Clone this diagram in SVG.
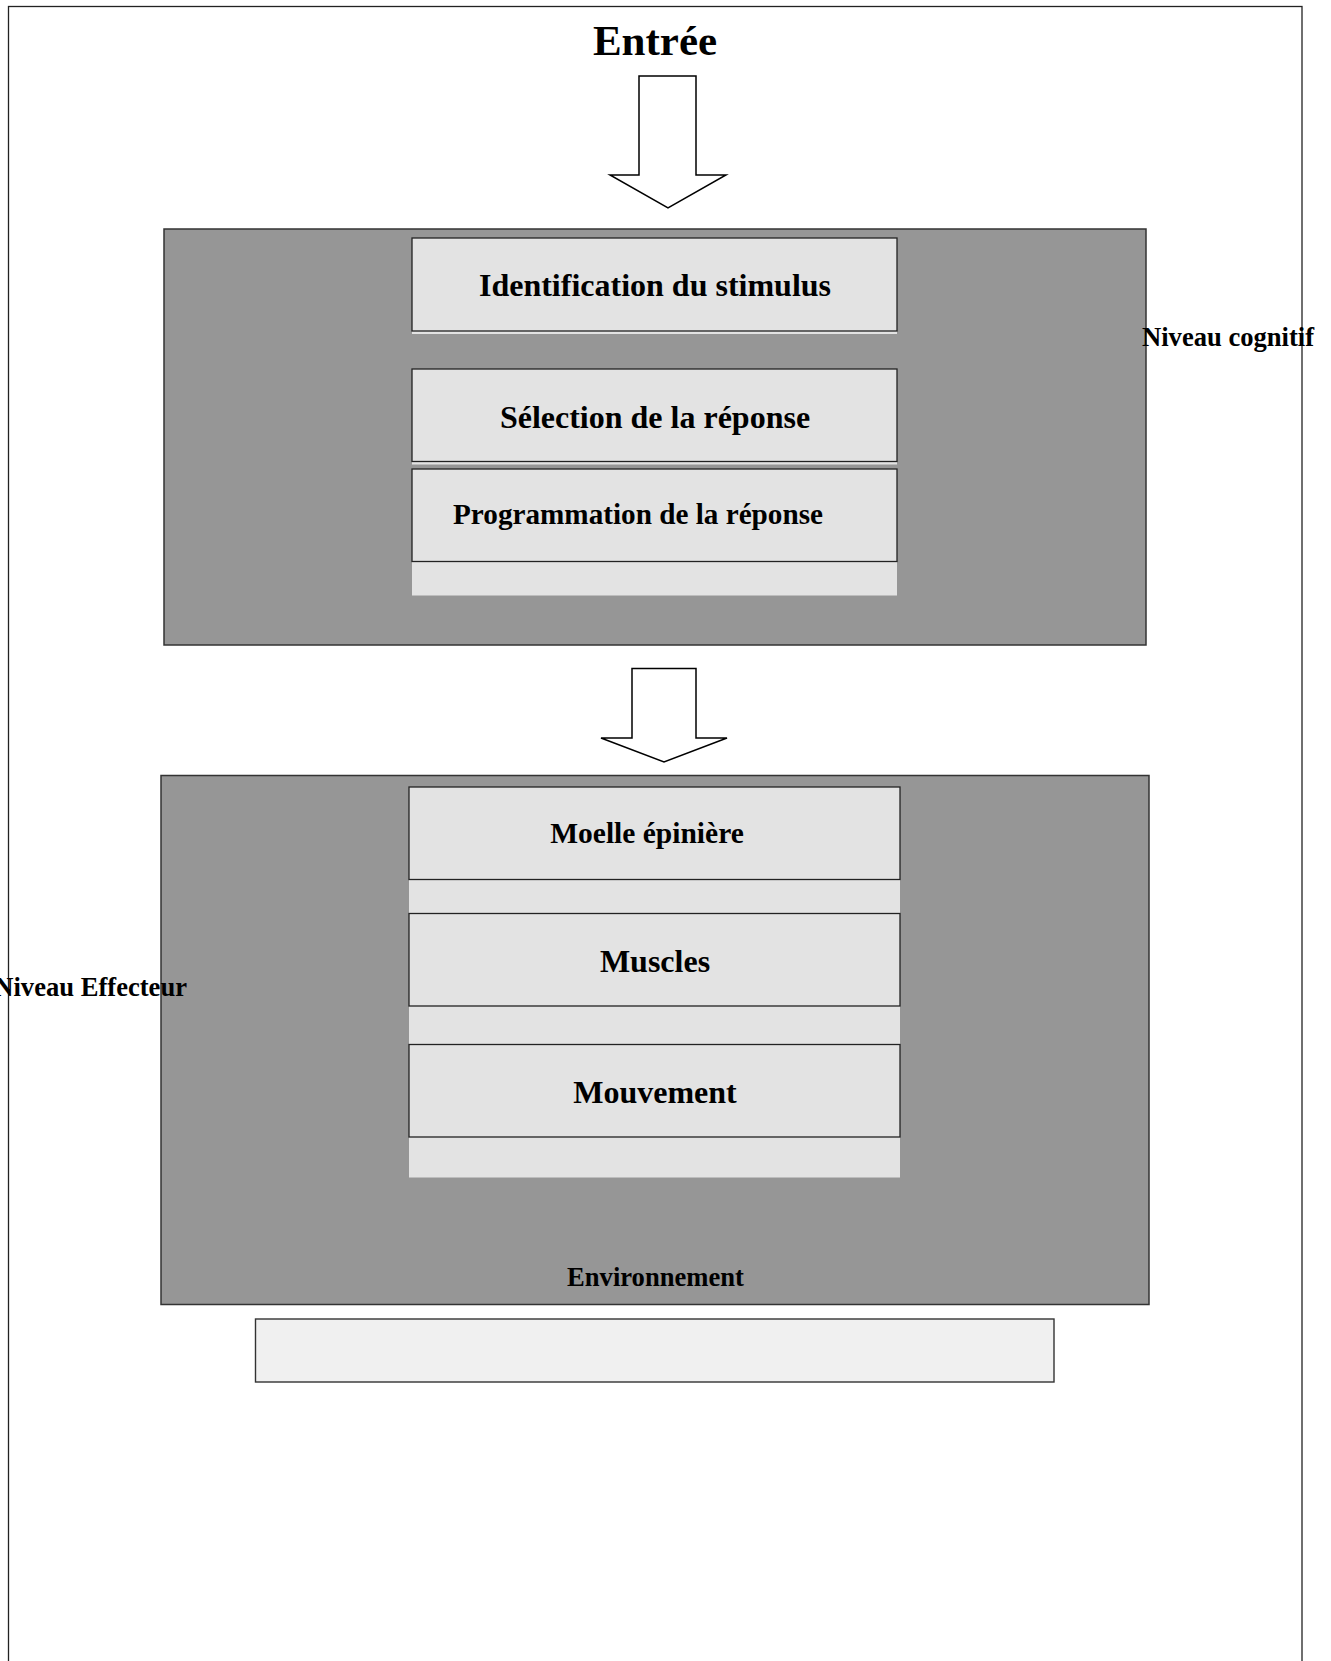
<svg xmlns="http://www.w3.org/2000/svg" width="1331" height="1661" viewBox="0 0 1331 1661">
<style>
.frame{fill:none;stroke:#222;stroke-width:1.3}
.panel{fill:#969696;stroke:#333;stroke-width:1.5}
.strip{fill:#e3e3e3}
.box{fill:#e3e3e3;stroke:#222;stroke-width:1.3}
.bottom{fill:#f0f0f0;stroke:#333;stroke-width:1.4}
.arrow{fill:#fff;stroke:#000;stroke-width:1.5;stroke-linejoin:miter}
.t{font-family:"Liberation Serif","Times New Roman",serif;font-weight:bold;fill:#000}
.m{text-anchor:middle}
</style>
<rect width="1331" height="1661" fill="#fff"/>
<rect id="frame" class="frame" x="8.5" y="6.5" width="1293.5" height="1700"/>
<g id="entree"><text class="t m" x="655" y="55" font-size="43">Entrée</text></g>
<g id="cognitif">
<rect class="panel" x="164" y="229" width="982" height="416"/>
</g>
<g id="effecteur">
<rect class="panel" x="161" y="775.5" width="988" height="529"/>
<text class="t m" x="655.5" y="1286" font-size="26.6">Environnement</text>
</g>
<g id="identification">
<rect class="strip" x="412" y="238" width="485" height="96"/>
<rect class="box" x="412" y="238" width="485" height="93"/>
<text class="t m" x="655" y="296" font-size="32">Identification du stimulus</text>
</g>
<g id="selection">
<rect class="strip" x="412" y="369" width="485" height="95.5"/>
<rect class="box" x="412" y="369" width="485" height="92.5"/>
<text class="t m" x="655" y="427.5" font-size="32">Sélection de la réponse</text>
</g>
<g id="programmation">
<rect class="strip" x="412" y="469" width="485" height="126.5"/>
<rect class="box" x="412" y="469" width="485" height="92.5"/>
<text class="t m" x="638" y="524" font-size="29.2">Programmation de la réponse</text>
</g>
<rect class="strip" x="409" y="787" width="491" height="390.5"/>
<g id="moelle">
<rect class="box" x="409" y="787" width="491" height="92.5"/>
<text class="t m" x="647" y="843" font-size="29.5">Moelle épinière</text>
</g>
<g id="muscles">
<rect class="box" x="409" y="913.5" width="491" height="92.5"/>
<text class="t m" x="655" y="971.5" font-size="32">Muscles</text>
</g>
<g id="mouvement">
<rect class="box" x="409" y="1044.5" width="491" height="92.5"/>
<text class="t m" x="655" y="1103" font-size="32">Mouvement</text>
</g>
<g id="environnement-box">
<rect class="bottom" x="255.5" y="1319" width="798.5" height="63"/>
</g>
<g id="label-cognitif"><text class="t" x="1142" y="346" font-size="26.6">Niveau cognitif</text></g>
<g id="label-effecteur"><text class="t" x="187" y="996" font-size="26.6" text-anchor="end">Niveau Effecteur</text></g>
<g id="connectors">
<path class="arrow" d="M639,76 H696 V175 H726 L668,208 L610,175 H639 Z"/>
<path class="arrow" d="M632,668.5 H696 V738 H727 L664,762 L601,738 H632 Z"/>
</g>
</svg>
